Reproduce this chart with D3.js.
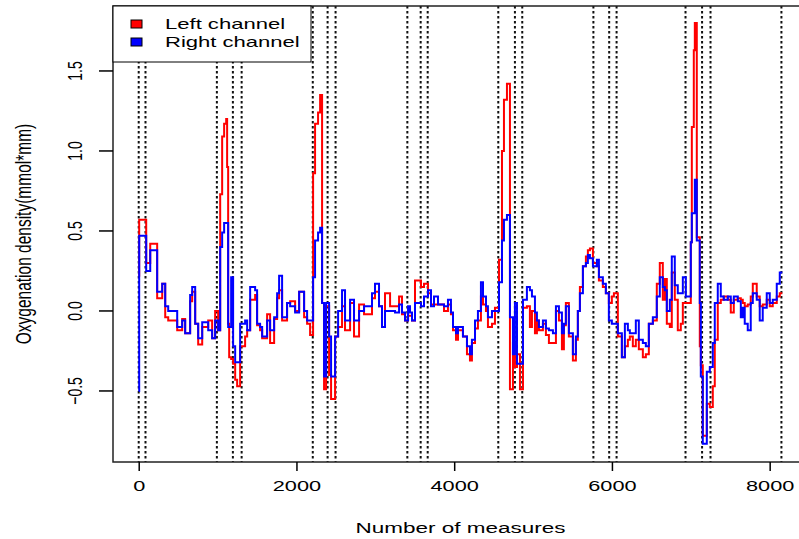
<!DOCTYPE html>
<html>
<head>
<meta charset="utf-8">
<script src="https://cdn.jsdelivr.net/npm/d3@7"></script>
<style>
  body { margin: 0; background: #fff; }
  text { font-family: "Liberation Sans", Arial, sans-serif; fill: #000; }
</style>
</head>
<body>
<svg id="chart" width="799" height="539"></svg>
<script>
// --- data ---
var measures = [0,6,95,146,234,298,336,374,488,551,589,652,678,716,754,805,881,931,969,1007,
  1033,1058,1083,1109,1121,1134,1147,1172,1197,1223,1248,1286,1349,1375,1413,1476,1501,1539,1565,1628,
  1666,1717,1755,1780,1818,1881,1920,1983,2034,2097,2135,2173,2211,2236,2274,2300,2325,2350,2376,2414,
  2439,2490,2528,2578,2616,2680,2730,2794,2857,2958,2996,3047,3085,3123,3187,3250,3301,3338,3377,3415,
  3440,3465,3503,3579,3617,3668,3706,3744,3795,3871,3921,3959,3985,4023,4048,4111,4162,4200,4225,4264,
  4301,4339,4365,4403,4428,4479,4517,4568,4606,4631,4669,4707,4745,4770,4796,4834,4872,4922,4960,4986,
  5024,5049,5074,5125,5163,5201,5252,5290,5328,5366,5391,5416,5454,5505,5543,5568,5594,5632,5670,5695,
  5721,5759,5809,5835,5885,5923,5961,5999,6025,6075,6126,6164,6202,6227,6265,6303,6341,6392,6430,6468,
  6519,6569,6607,6645,6671,6696,6734,6759,6797,6835,6873,6899,6937,7000,7013,7038,7051,7076,7114,7127,
  7152,7203,7241,7279,7304,7342,7380,7418,7469,7507,7545,7596,7634,7659,7684,7722,7760,7786,7836,7874,
  7912,7963,8001,8039,8090,8128,8160];

var leftChannel = [0.22,0.57,0.30,0.42,0.08,0.17,-0.04,-0.06,-0.12,-0.05,-0.14,0.06,0.12,-0.08,-0.21,-0.10,-0.06,-0.17,0.00,-0.12,
  0.73,1.09,1.17,1.20,0.90,-0.08,-0.29,-0.30,-0.33,-0.43,-0.47,-0.22,-0.16,-0.12,0.07,0.10,-0.09,-0.12,-0.17,-0.02,
  -0.20,-0.05,0.08,0.13,-0.06,0.05,0.06,0.00,0.12,-0.04,-0.08,-0.15,0.86,1.17,1.24,1.35,0.05,-0.49,0.03,-0.40,
  -0.55,-0.16,-0.10,0.03,-0.12,0.05,-0.16,0.04,-0.02,0.08,0.12,0.03,-0.10,0.11,0.03,0.03,0.09,-0.02,-0.06,-0.03,
  -0.03,-0.06,0.19,0.15,0.17,0.11,0.04,0.04,0.04,0.00,0.04,-0.02,-0.12,-0.18,-0.12,-0.16,-0.27,-0.31,-0.20,-0.11,
  -0.06,0.09,0.04,0.00,-0.10,-0.08,0.02,0.32,1.00,1.32,1.42,-0.49,-0.20,-0.35,-0.27,-0.49,0.02,0.03,-0.10,0.00,
  -0.14,-0.06,-0.12,-0.08,-0.15,-0.20,-0.20,0.00,-0.06,-0.24,-0.09,0.05,-0.16,-0.31,-0.18,0.00,0.15,0.28,0.34,0.38,
  0.39,0.30,0.28,0.19,0.15,0.11,0.05,0.09,0.11,-0.16,-0.29,-0.22,-0.18,-0.16,-0.22,-0.18,-0.24,-0.29,-0.27,-0.08,
  -0.06,0.17,0.30,0.07,0.20,-0.08,-0.10,0.24,0.07,-0.12,-0.08,0.05,0.05,0.43,1.15,1.63,1.80,0.46,-0.22,-0.34,
  -0.78,-0.58,-0.60,-0.47,-0.18,0.05,0.07,0.09,0.07,-0.01,0.07,0.08,0.07,0.05,0.03,0.04,0.09,0.17,0.09,0.03,
  0.04,0.07,0.03,0.05,0.09,0.11,0.11];

var rightChannel = [-0.50,0.47,0.25,0.38,0.12,0.17,0.03,0.00,-0.10,-0.06,-0.14,0.10,0.15,-0.08,-0.17,-0.07,-0.12,-0.17,-0.06,-0.12,
  0.40,0.49,0.55,0.55,0.55,-0.10,-0.10,0.21,-0.22,-0.32,-0.32,-0.08,-0.06,-0.12,0.15,0.13,-0.08,-0.10,-0.16,-0.06,
  -0.12,-0.04,0.11,0.22,-0.04,0.05,0.03,-0.01,0.12,0.00,-0.06,-0.06,0.21,0.44,0.49,0.52,0.05,-0.41,0.05,-0.16,
  -0.41,-0.16,0.00,0.13,-0.06,0.07,-0.06,0.00,0.03,0.11,0.17,0.03,-0.10,0.00,0.00,-0.01,0.04,-0.01,-0.06,0.03,
  -0.01,-0.06,0.05,0.03,0.09,0.13,0.03,0.09,0.04,0.03,0.07,-0.01,-0.10,-0.14,-0.10,-0.16,-0.22,-0.27,-0.18,-0.06,
  0.00,0.18,0.09,0.03,-0.04,0.00,0.00,0.18,0.44,0.57,0.60,-0.04,-0.27,0.05,-0.33,-0.33,0.07,0.15,0.13,0.09,
  -0.01,-0.06,-0.10,-0.06,-0.11,-0.12,-0.14,0.03,-0.01,-0.14,-0.08,0.03,-0.14,-0.27,-0.16,0.00,0.11,0.28,0.30,0.35,
  0.33,0.28,0.32,0.21,0.17,0.11,-0.06,-0.08,-0.08,-0.14,-0.29,-0.08,-0.12,-0.14,-0.14,-0.06,-0.18,-0.20,-0.22,-0.08,
  -0.04,0.09,0.21,0.15,0.13,0.00,0.07,0.34,0.16,0.11,0.11,0.21,0.09,0.43,0.61,0.61,0.82,0.44,0.05,-0.41,
  -0.83,-0.38,-0.35,-0.20,0.05,0.17,0.09,0.07,0.09,0.05,0.09,0.06,-0.04,0.02,-0.08,-0.12,0.05,0.11,0.07,-0.06,
  0.02,0.11,0.05,0.07,0.17,0.24,0.24];

// dotted event markers (measure index)
var eventMarks = [0,86,991,1194,1305,2207,2395,2496,3406,3575,3664,4559,4770,4863,5765,5965,6059,6933,7143,7250,8149];

var xTicks = [0,2000,4000,6000,8000];
var yTicks = [-0.5,0.0,0.5,1.0,1.5];
var seriesNames = ["Left channel","Right channel"];
var seriesColors = ["#ff0000","#0000ff"];

// --- layout ---
var svg = d3.select("#chart");
var plot = {left: 113, right: 808, top: 6, bottom: 462};
var sx = 1.5; // the picture is stretched horizontally, text too

var x = d3.scaleLinear().domain([-326, 8486]).range([plot.left, plot.right]);
var y = d3.scaleLinear().domain([-0.944, 1.906]).range([plot.bottom, plot.top]);

svg.append("clipPath").attr("id", "clip")
  .append("rect")
  .attr("x", plot.left).attr("y", plot.top)
  .attr("width", plot.right - plot.left).attr("height", plot.bottom - plot.top);

var g = svg.append("g").attr("clip-path", "url(#clip)");

// dotted vertical lines
g.selectAll("line.mark")
  .data(eventMarks)
  .enter().append("line")
  .attr("class", "mark")
  .attr("x1", d => x(d)).attr("x2", d => x(d))
  .attr("y1", plot.top).attr("y2", plot.bottom)
  .attr("stroke", "#111")
  .attr("stroke-width", 2)
  .attr("stroke-dasharray", "2.5,2.5");

// channel lines (red first, blue on top)
var line = d3.line().curve(d3.curveStepAfter);
[leftChannel, rightChannel].forEach(function(vals, k) {
  var pts = measures.map((m, i) => [x(m), y(vals[i])]);
  g.append("path")
    .attr("d", line(pts))
    .attr("fill", "none")
    .attr("stroke", seriesColors[k])
    .attr("stroke-width", 2);
});

// box
svg.append("rect")
  .attr("x", plot.left).attr("y", plot.top)
  .attr("width", plot.right - plot.left).attr("height", plot.bottom - plot.top)
  .attr("fill", "none").attr("stroke", "#222").attr("stroke-width", 1.5);

// x axis
var xAxis = svg.append("g")
  .attr("transform", "translate(0," + plot.bottom + ")")
  .call(d3.axisBottom(x).tickValues(xTicks).tickSize(9).tickPadding(10).tickFormat(d3.format("d")));
xAxis.select(".domain").remove();
xAxis.selectAll("line").attr("stroke", "#000").attr("stroke-width", 1.5);
xAxis.selectAll("text")
  .attr("font-size", "14.5px")
  .attr("font-family", "'Liberation Sans', Arial, sans-serif")
  .attr("transform", "scale(" + sx + ",1)");

// y axis
svg.selectAll("line.ytick")
  .data(yTicks)
  .enter().append("line")
  .attr("class", "ytick")
  .attr("x1", plot.left - 14).attr("x2", plot.left)
  .attr("y1", d => y(d)).attr("y2", d => y(d))
  .attr("stroke", "#000").attr("stroke-width", 1.5);

svg.selectAll("text.ylab")
  .data(yTicks)
  .enter().append("text")
  .attr("class", "ylab")
  .attr("text-anchor", "middle")
  .attr("font-size", "14px")
  .attr("transform", d => "translate(82," + y(d) + ") scale(" + sx + ",1) rotate(-90)")
  .text(d => d3.format(".1f")(d));

// axis titles
svg.append("text")
  .attr("text-anchor", "middle")
  .attr("font-size", "15.5px")
  .attr("transform", "translate(" + ((plot.left + plot.right) / 2) + ",533) scale(1.45,1)")
  .text("Number of measures");

svg.append("text")
  .attr("text-anchor", "middle")
  .attr("font-size", "15.5px")
  .attr("transform", "translate(31," + ((plot.top + plot.bottom) / 2) + ") scale(1.45,1) rotate(-90)")
  .text("Oxygenation density(mmol*mm)");

// legend
var legend = svg.append("g");
legend.append("rect")
  .attr("x", plot.left).attr("y", plot.top)
  .attr("width", 198).attr("height", 56)
  .attr("fill", "#fff").attr("stroke", "#000").attr("stroke-width", 1);

seriesNames.forEach(function(name, i) {
  var yy = 29 + i * 18;
  legend.append("rect")
    .attr("x", 131).attr("y", yy - 9)
    .attr("width", 11).attr("height", 8)
    .attr("fill", seriesColors[i]).attr("stroke", "#000").attr("stroke-width", 1);
  legend.append("text")
    .attr("font-size", "15px")
    .attr("transform", "translate(165," + yy + ") scale(1.47,1)")
    .text(name);
});
</script>
</body>
</html>
